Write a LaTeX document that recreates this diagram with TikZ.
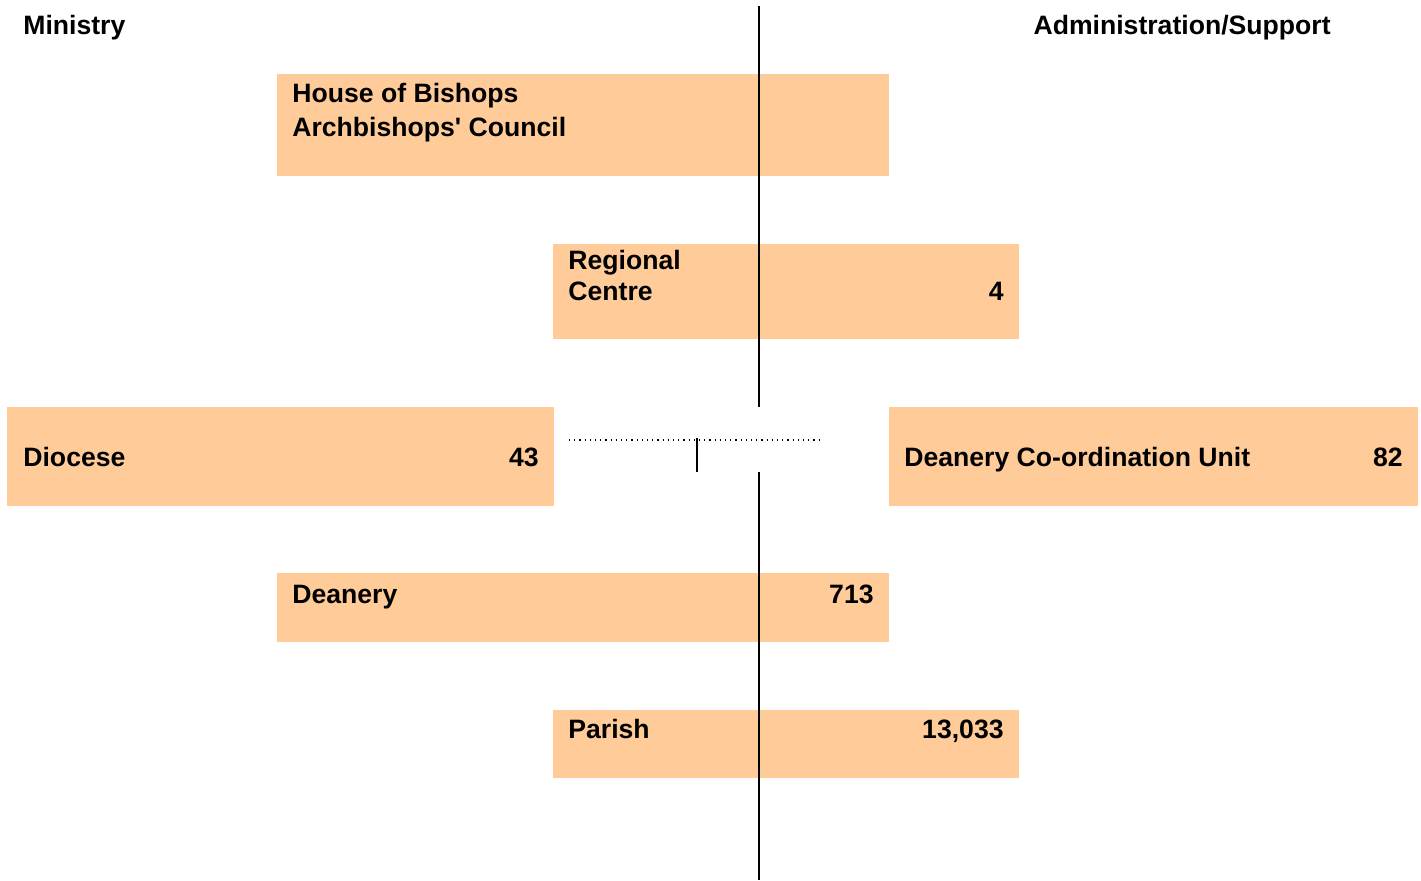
\documentclass[tikz,border=0pt]{standalone}
\usepackage{fontspec}
\setmainfont{Liberation Sans}
\usepackage{xcolor}
\definecolor{peach}{HTML}{FFCC99}
\usetikzlibrary{positioning}

\tikzset{
  box/.style={fill=peach,inner sep=0pt,anchor=north west},
  lbl/.style={inner sep=0pt,font=\fontsize{13.3}{16}\selectfont\bfseries},
  axis/.style={line width=1pt,black}
}

\begin{document}
\begin{tikzpicture}[x=0.5pt,y=-0.5pt]
\useasboundingbox (0,0) rectangle (1421,880);
% boxes
\node[box,minimum width=306pt,minimum height=51pt] (hob) at (277,74) {};
\node[box,minimum width=233pt,minimum height=47.5pt] (reg) at (553,244) {};
\node[box,minimum width=273.5pt,minimum height=49.5pt] (dio) at (7,407) {};
\node[box,minimum width=264.5pt,minimum height=49.5pt] (dcu) at (889,407) {};
\node[box,minimum width=306pt,minimum height=34.5pt] (dea) at (277,573) {};
\node[box,minimum width=233pt,minimum height=34pt] (par) at (553,710) {};
% headings
\node[lbl,anchor=base west] (min) at (23,34) {Ministry};
\node[lbl,anchor=base east] (adm) at (1331,34) {Administration/Support};
% labels
\node[lbl,anchor=base west] (hobA) at (292,102) {House of Bishops};
\node[lbl,anchor=base west] (hobB) at (292,136) {Archbishops\textquotesingle{} Council};
\node[lbl,anchor=base west] (regA) at (568,269) {Regional};
\node[lbl,anchor=base west] (regB) at (568,300) {Centre};
\node[lbl,anchor=base east] (regN) at (1004,300) {4};
\node[lbl,anchor=base west] (dioA) at (23,466) {Diocese};
\node[lbl,anchor=base east] (dioN) at (539,466) {43};
\node[lbl,anchor=base west] (dcuA) at (904,466) {Deanery Co-ordination Unit};
\node[lbl,anchor=base east] (dcuN) at (1403,466) {82};
\node[lbl,anchor=base west] (deaA) at (292,603) {Deanery};
\node[lbl,anchor=base east] (deaN) at (874,603) {713};
\node[lbl,anchor=base west] (parA) at (568,738) {Parish};
\node[lbl,anchor=base east] (parN) at (1004,738) {13,033};
% dividing line
\coordinate (vtop) at (759,6);
\coordinate (vgapa) at (759,407);
\coordinate (vgapb) at (759,472);
\coordinate (vbot) at (759,880);
\draw[axis] (vtop) -- (vgapa);
\draw[axis] (vgapb) -- (vbot);
\coordinate (dotl) at (569,440);
\coordinate (dotr) at (823,440);
\draw[line width=0.6pt,dotted] (dotl) -- (dotr);
\coordinate (tickt) at (697,438);
\coordinate (tickb) at (697,472);
\draw[axis] (tickt) -- (tickb);
\end{tikzpicture}
\end{document}
